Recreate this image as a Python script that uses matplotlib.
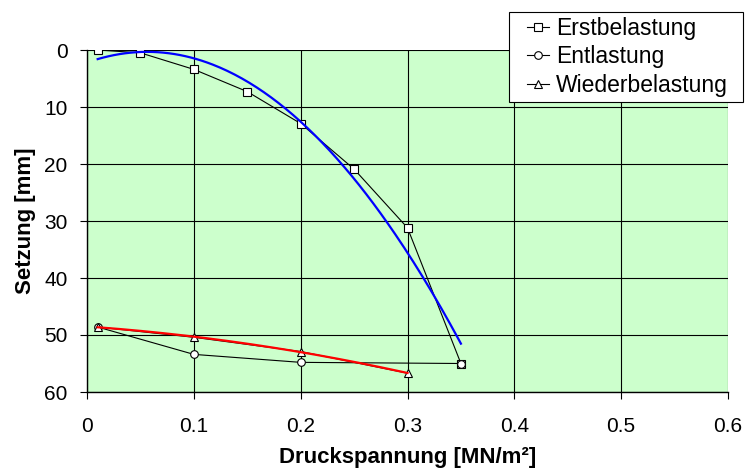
import numpy as np
import matplotlib
matplotlib.use("Agg")
import matplotlib.pyplot as plt
from matplotlib.patches import Rectangle

plt.rcParams['font.family'] = ['Liberation Sans', 'DejaVu Sans']

# Data
x_erst = [0.01, 0.05, 0.10, 0.15, 0.20, 0.25, 0.30, 0.35]
y_erst = [0.0, 0.5, 3.4, 7.3, 12.9, 20.9, 31.2, 55.0]
x_ent = [0.35, 0.20, 0.10, 0.01]
y_ent = [55.0, 54.8, 53.4, 48.6]
x_wied = [0.01, 0.10, 0.20, 0.30]
y_wied = [48.6, 50.4, 52.9, 56.7]

labels = ["Erstbelastung", "Entlastung", "Wiederbelastung"]
xticks = [0, 0.1, 0.2, 0.3, 0.4, 0.5, 0.6]
yticks = [0, 10, 20, 30, 40, 50, 60]

fig = plt.figure(figsize=(7.45, 4.68), dpi=100)
ax = fig.add_axes([87/745, 1-392/468, (728-87)/745, (392-50)/468])
ax.set_facecolor('#CCFFCC')

mk = dict(color='black', lw=0.8, markerfacecolor='white', markeredgecolor='black',
          markeredgewidth=0.8, markersize=5.5)
l1, = ax.plot(x_erst, y_erst, marker='s', label=labels[0], **mk)
l2, = ax.plot(x_ent, y_ent, marker='o', label=labels[1], **mk)
l3, = ax.plot(x_wied, y_wied, marker='^', label=labels[2], **mk)

# polynomial trendlines (order 2) from data
c1 = np.polyfit(x_erst, y_erst, 2)
xs1 = np.linspace(min(x_erst), max(x_erst), 200)
ax.plot(xs1, np.polyval(c1, xs1), color='#0000FF', lw=1.6, zorder=3)
c3 = np.polyfit(x_wied, y_wied, 2)
xs3 = np.linspace(min(x_wied), max(x_wied), 200)
ax.plot(xs3, np.polyval(c3, xs3), color='#FF0000', lw=1.6, zorder=3)

ax.set_xlim(0, 0.6)
ax.set_ylim(60, 0)
ax.set_xticks(xticks)
ax.set_xticklabels(['0' if v == 0 else f"{v:.1f}" for v in xticks])
ax.set_yticks(yticks)
ax.grid(True, color='black', lw=0.8)
ax.set_axisbelow(True)
for s in ['top', 'right']:
    ax.spines[s].set_visible(False)
for s in ['left', 'bottom']:
    ax.spines[s].set_linewidth(1.0)
ax.tick_params(direction='out', length=5, width=0.8, labelsize=15, colors='black')
ax.tick_params(axis='x', pad=13)
ax.tick_params(axis='y', pad=9)

ax.set_xlabel("Druckspannung [MN/m²]", fontsize=16, fontweight='bold', labelpad=8)
ax.set_ylabel("Setzung [mm]", fontsize=16, fontweight='bold', labelpad=6)

# legend frame
fig.patches.append(Rectangle((509/745, 1-102/468), 234/745, 90/468,
                             transform=fig.transFigure, facecolor='white',
                             edgecolor='black', lw=0.8, zorder=5))
leg = fig.legend(handles=[l1, l2, l3], loc='upper left',
                 bbox_to_anchor=(527/745, 1-17/468), bbox_transform=fig.transFigure,
                 fontsize=16.5, frameon=False, handlelength=0.95, handletextpad=0.3,
                 borderpad=0, labelspacing=0.24, borderaxespad=0)
leg.set_zorder(6)

fig.savefig("out.png", dpi=100)
